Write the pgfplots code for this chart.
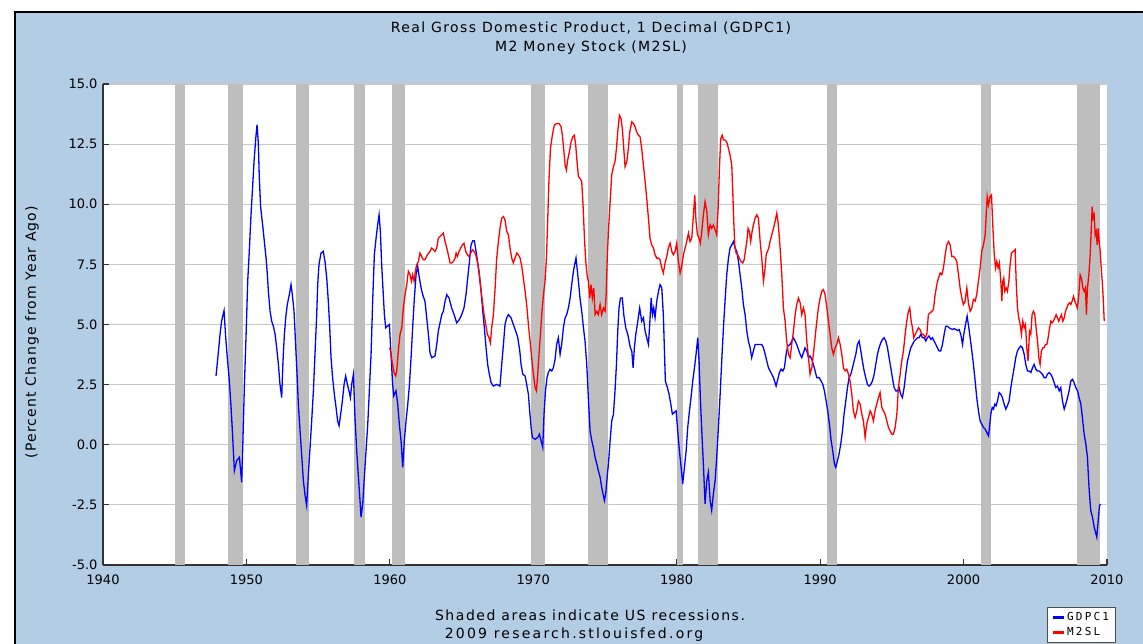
\documentclass[border=0pt]{standalone}
\usepackage{pgfplots}
\pgfplotsset{compat=1.18}
\usepackage{fontspec}
\setmainfont{DejaVu Sans}
\newfontfamily\legfont[LetterSpace=20]{DejaVu Sans Mono}
\newfontfamily\titlefont[LetterSpace=10]{DejaVu Sans}
\newfontfamily\ylabfont[LetterSpace=8]{DejaVu Sans}
\newfontfamily\shadefont[LetterSpace=11]{DejaVu Sans}
\newfontfamily\credfont[LetterSpace=16]{DejaVu Sans}
\definecolor{bgblue}{RGB}{179,205,229}
\definecolor{recgray}{RGB}{190,190,190}
\definecolor{gridgray}{RGB}{200,200,200}
\begin{document}
\begin{tikzpicture}
\fill[white] (0pt,0pt) rectangle (1143pt,643pt);
\fill[bgblue] (15pt,-5pt) rectangle (1150pt,631pt);
\draw[black, line width=1.6pt] (15pt,-5pt) -- (15pt,631pt) -- (1150pt,631pt);
\node[font=\titlefont\fontsize{14}{19}\selectfont, align=center] at (591pt,604.5pt) {Real Gross Domestic Product, 1 Decimal (GDPC1)\\M2 Money Stock (M2SL)};
\node[font=\ylabfont\fontsize{14}{16}\selectfont, rotate=90] at (32pt,311pt) {(Percent Change from Year Ago)};
\node[font=\shadefont\fontsize{14}{16}\selectfont] at (590pt,28pt) {Shaded areas indicate US recessions.};
\node[font=\credfont\fontsize{14}{16}\selectfont] at (574pt,8pt) {2009 research.stlouisfed.org};
\begin{axis}[
 at={(103pt,78pt)}, anchor=south west, scale only axis, width=1004pt, height=481pt,
 xmin=1940, xmax=2010, ymin=-5, ymax=15,
 xtick={1940,1950,...,2010}, ytick={-5,-2.5,...,15},
 axis lines*=left, axis line style={-, draw=black!80, line width=1.2pt},
 tick align=inside, major tick length=6pt, tick style={black!80, line width=1.2pt},
 ymajorgrids, grid style={draw=gridgray, line width=1.2pt},
 axis background/.style={fill=white},
 /pgf/number format/assume math mode=true,
 xticklabel style={/pgf/number format/1000 sep={}, yshift=-6pt},
 yticklabel style={/pgf/number format/fixed, /pgf/number format/fixed zerofill, /pgf/number format/precision=1, xshift=-2pt},
 ticklabel style={font=\fontsize{13}{15}\selectfont},
 legend style={at={(0.940,-0.088)}, anchor=north west, draw=black!70, line width=0.8pt, fill=white, font=\legfont\fontsize{11}{13}\selectfont, row sep=1pt, inner xsep=4pt, inner ysep=3pt},
 legend cell align=left,
 legend image code/.code={\draw[#1, line width=3pt] (0pt,0pt) -- (11pt,0pt);},
]
\addplot[fill=recgray, draw=none, forget plot] coordinates {(1945.02,-5)(1945.02,15)(1945.72,15)(1945.72,-5)} -- cycle;
\addplot[fill=recgray, draw=none, forget plot] coordinates {(1948.73,-5)(1948.73,15)(1949.74,15)(1949.74,-5)} -- cycle;
\addplot[fill=recgray, draw=none, forget plot] coordinates {(1953.46,-5)(1953.46,15)(1954.37,15)(1954.37,-5)} -- cycle;
\addplot[fill=recgray, draw=none, forget plot] coordinates {(1957.53,-5)(1957.53,15)(1958.25,15)(1958.25,-5)} -- cycle;
\addplot[fill=recgray, draw=none, forget plot] coordinates {(1960.15,-5)(1960.15,15)(1961.06,15)(1961.06,-5)} -- cycle;
\addplot[fill=recgray, draw=none, forget plot] coordinates {(1969.85,-5)(1969.85,15)(1970.82,15)(1970.82,-5)} -- cycle;
\addplot[fill=recgray, draw=none, forget plot] coordinates {(1973.8,-5)(1973.8,15)(1975.2,15)(1975.2,-5)} -- cycle;
\addplot[fill=recgray, draw=none, forget plot] coordinates {(1980.0,-5)(1980.0,15)(1980.47,15)(1980.47,-5)} -- cycle;
\addplot[fill=recgray, draw=none, forget plot] coordinates {(1981.47,-5)(1981.47,15)(1982.89,15)(1982.89,-5)} -- cycle;
\addplot[fill=recgray, draw=none, forget plot] coordinates {(1990.47,-5)(1990.47,15)(1991.19,15)(1991.19,-5)} -- cycle;
\addplot[fill=recgray, draw=none, forget plot] coordinates {(2001.2,-5)(2001.2,15)(2001.9,15)(2001.9,-5)} -- cycle;
\addplot[fill=recgray, draw=none, forget plot] coordinates {(2007.94,-5)(2007.94,15)(2009.53,15)(2009.53,-5)} -- cycle;
\addplot[blue, line width=1.3pt] coordinates {
(1947.88,2.86)(1948.04,3.83)(1948.16,4.59)(1948.27,5.14)(1948.44,5.58)(1948.55,4.5)(1948.67,3.6)(1948.81,2.65)(1948.93,1.55)(1949.02,0.58)(1949.16,-1.08)(1949.32,-0.66)(1949.51,-0.52)(1949.67,-1.56)(1949.74,-0.18)(1949.86,2.51)(1949.97,4.45)(1950.09,6.8)(1950.2,8.04)(1950.32,9.56)(1950.44,10.8)(1950.53,11.77)(1950.65,12.73)(1950.74,13.31)(1950.83,12.53)(1950.9,11.08)(1950.99,9.9)(1951.13,9.14)(1951.25,8.45)(1951.37,7.76)(1951.46,7.07)(1951.53,6.38)(1951.65,5.55)(1951.76,5.14)(1951.88,4.93)(1952.0,4.59)(1952.11,4.03)(1952.23,3.34)(1952.34,2.51)(1952.46,1.96)(1952.55,3.48)(1952.64,4.52)(1952.74,5.28)(1952.85,5.83)(1952.99,6.24)(1953.11,6.66)(1953.2,6.24)(1953.32,5.55)(1953.43,4.17)(1953.53,2.93)(1953.62,1.69)(1953.74,0.58)(1953.85,-0.39)(1953.97,-1.49)(1954.09,-2.11)(1954.2,-2.53)(1954.32,-1.22)(1954.43,-0.18)(1954.55,0.99)(1954.67,2.24)(1954.78,3.76)(1954.9,5.41)(1954.97,6.66)(1955.06,7.49)(1955.2,7.97)(1955.36,8.04)(1955.48,7.62)(1955.6,6.93)(1955.71,5.97)(1955.81,4.86)(1955.9,3.62)(1956.01,2.79)(1956.13,2.1)(1956.25,1.55)(1956.36,0.99)(1956.46,0.79)(1956.57,1.27)(1956.69,1.82)(1956.81,2.51)(1956.92,2.86)(1957.04,2.51)(1957.15,2.24)(1957.25,1.96)(1957.34,2.51)(1957.46,2.93)
(1957.57,1.13)(1957.69,-0.25)(1957.81,-1.35)(1957.92,-2.32)(1957.99,-3.01)(1958.11,-2.46)(1958.22,-1.35)(1958.34,-0.25)(1958.46,0.86)(1958.57,2.24)(1958.69,3.76)(1958.81,6.1)(1958.92,7.9)(1959.04,8.59)(1959.15,9.14)(1959.25,9.56)(1959.34,8.87)(1959.43,7.49)(1959.53,6.38)(1959.62,5.41)(1959.71,4.86)(1959.83,4.93)(1959.97,5.0)(1960.08,3.76)(1960.18,2.65)(1960.27,2.03)(1960.43,2.24)(1960.55,1.69)(1960.66,0.86)(1960.78,0.17)(1960.9,-0.94)(1961.01,0.17)(1961.13,0.99)(1961.25,1.69)(1961.36,2.44)(1961.48,3.62)(1961.59,4.86)(1961.71,6.1)(1961.83,7.07)(1961.94,7.42)(1962.06,6.93)(1962.18,6.52)(1962.29,6.24)(1962.45,5.97)(1962.57,5.28)(1962.69,4.59)(1962.8,3.83)(1962.92,3.62)(1963.15,3.69)(1963.27,4.17)(1963.38,4.72)(1963.5,5.07)(1963.62,5.41)(1963.73,5.55)(1963.85,5.97)(1963.97,6.24)(1964.13,6.1)(1964.31,5.69)(1964.48,5.41)(1964.66,5.07)(1964.85,5.21)(1965.01,5.41)(1965.17,5.69)(1965.31,6.24)(1965.43,6.93)(1965.55,7.62)(1965.66,8.31)(1965.78,8.48)(1965.89,8.48)(1966.01,8.04)(1966.13,7.56)(1966.24,7.07)(1966.36,6.38)(1966.48,5.55)(1966.59,4.86)(1966.71,4.03)(1966.82,3.34)(1966.94,2.93)(1967.06,2.58)(1967.22,2.44)(1967.45,2.51)(1967.68,2.44)(1967.8,3.34)(1967.92,4.17)(1968.03,5.0)(1968.15,5.28)
(1968.27,5.41)(1968.45,5.28)(1968.61,5.0)(1968.78,4.72)(1968.92,4.45)(1969.06,3.9)(1969.15,3.34)(1969.27,2.93)(1969.43,2.86)(1969.54,2.51)(1969.66,2.1)(1969.75,1.41)(1969.85,0.72)(1969.94,0.3)(1970.13,0.23)(1970.31,0.3)(1970.43,0.44)(1970.54,0.17)(1970.66,-0.11)(1970.75,1.27)(1970.85,2.24)(1970.96,2.79)(1971.05,3.0)(1971.17,3.14)(1971.29,3.07)(1971.4,3.2)(1971.52,3.55)(1971.63,4.17)(1971.75,4.45)(1971.87,3.76)(1971.98,4.17)(1972.1,4.86)(1972.22,5.28)(1972.33,5.41)(1972.45,5.69)(1972.57,6.1)(1972.68,6.66)(1972.8,7.21)(1972.91,7.56)(1972.98,7.76)(1973.08,7.21)(1973.17,6.66)(1973.26,6.1)(1973.38,5.55)(1973.5,4.86)(1973.61,4.31)(1973.73,3.34)(1973.84,1.96)(1973.96,0.58)(1974.08,0.17)(1974.19,-0.11)(1974.31,-0.52)(1974.43,-0.8)(1974.54,-1.08)(1974.66,-1.35)(1974.77,-1.77)(1974.89,-2.11)(1974.96,-2.32)(1975.05,-2.04)(1975.15,-1.35)(1975.24,-0.8)(1975.36,0.17)(1975.47,0.99)(1975.59,1.27)(1975.7,2.24)(1975.8,3.34)(1975.89,4.72)(1975.98,5.69)(1976.08,6.1)(1976.21,6.1)(1976.31,5.41)(1976.45,4.86)(1976.59,4.59)(1976.68,4.31)(1976.77,4.03)(1976.87,3.9)(1976.96,3.2)(1977.05,4.03)(1977.15,4.59)(1977.29,5.14)(1977.42,5.69)(1977.56,5.14)(1977.68,5.28)(1977.8,4.72)(1977.91,4.45)(1978.03,4.17)(1978.12,5.0)(1978.22,6.1)(1978.31,5.41)(1978.4,5.69)(1978.49,5.28)(1978.61,5.97)(1978.73,6.38)
(1978.84,6.66)(1978.96,6.52)(1979.07,5.41)(1979.14,4.03)(1979.21,2.65)(1979.35,2.38)(1979.47,2.1)(1979.59,1.69)(1979.7,1.27)(1979.82,1.34)(1979.96,1.41)(1980.07,0.58)(1980.19,-0.25)(1980.31,-0.94)(1980.42,-1.63)(1980.54,-0.94)(1980.66,-0.25)(1980.77,0.72)(1980.89,1.41)(1981.0,1.96)(1981.12,2.65)(1981.24,3.2)(1981.35,3.76)(1981.47,4.45)(1981.56,3.48)(1981.65,1.96)(1981.75,0.58)(1981.86,-0.8)(1981.98,-2.46)(1982.1,-1.49)(1982.21,-1.15)(1982.33,-2.32)(1982.44,-2.73)(1982.56,-2.04)(1982.68,-1.49)(1982.79,-0.52)(1982.91,0.72)(1983.03,2.1)(1983.14,3.48)(1983.26,4.86)(1983.37,5.97)(1983.49,7.07)(1983.61,7.76)(1983.72,8.18)(1983.84,8.31)(1983.96,8.45)(1984.07,8.18)(1984.19,8.04)(1984.31,7.62)(1984.42,7.07)(1984.54,6.52)(1984.65,5.83)(1984.77,5.41)(1984.89,4.72)(1985.0,4.31)(1985.12,4.03)(1985.23,3.62)(1985.35,3.9)(1985.47,4.17)(1985.63,4.17)(1985.82,4.17)(1985.93,4.17)(1986.05,4.03)(1986.17,3.76)(1986.28,3.48)(1986.4,3.2)(1986.51,3.07)(1986.63,2.93)(1986.75,2.79)(1986.86,2.58)(1986.93,2.44)(1987.05,2.72)(1987.16,3.0)(1987.28,3.14)(1987.4,3.07)(1987.51,3.2)(1987.63,3.76)(1987.74,4.1)(1987.91,4.17)(1988.02,4.31)(1988.14,4.45)(1988.26,4.31)(1988.37,4.17)(1988.49,3.96)(1988.61,3.76)(1988.72,3.62)(1988.84,3.83)(1988.95,4.03)(1989.07,3.9)(1989.19,3.62)(1989.3,3.69)(1989.42,3.55)(1989.53,3.34)
(1989.65,3.07)(1989.77,2.79)(1989.93,2.79)(1990.07,2.65)(1990.19,2.51)(1990.3,2.24)(1990.42,1.82)(1990.53,1.41)(1990.65,0.86)(1990.77,0.17)(1990.88,-0.25)(1991.0,-0.8)(1991.09,-0.94)(1991.21,-0.66)(1991.32,-0.39)(1991.44,0.03)(1991.56,0.58)(1991.67,1.27)(1991.79,1.82)(1991.91,2.38)(1992.02,2.79)(1992.14,2.93)(1992.26,3.2)(1992.37,3.48)(1992.49,3.76)(1992.6,4.17)(1992.72,4.31)(1992.84,3.9)(1992.95,3.48)(1993.07,3.07)(1993.18,2.79)(1993.3,2.51)(1993.42,2.44)(1993.53,2.51)(1993.65,2.65)(1993.77,2.93)(1993.88,3.34)(1994.0,3.76)(1994.11,4.03)(1994.23,4.24)(1994.35,4.38)(1994.46,4.45)(1994.58,4.31)(1994.7,4.03)(1994.81,3.62)(1994.93,3.2)(1995.04,2.79)(1995.16,2.38)(1995.28,2.24)(1995.39,2.24)(1995.51,2.38)(1995.62,2.1)(1995.74,1.96)(1995.86,2.38)(1995.97,2.93)(1996.09,3.48)(1996.21,3.76)(1996.32,4.03)(1996.44,4.17)(1996.56,4.31)(1996.67,4.38)(1996.79,4.45)(1996.9,4.45)(1997.02,4.59)(1997.14,4.45)(1997.25,4.45)(1997.37,4.31)(1997.48,4.45)(1997.6,4.52)(1997.72,4.38)(1997.83,4.45)(1997.95,4.31)(1998.07,4.17)(1998.18,4.03)(1998.3,3.9)(1998.41,3.9)(1998.53,4.17)(1998.65,4.59)(1998.76,4.93)(1998.88,4.93)(1999.0,4.86)(1999.11,4.83)(1999.23,4.79)(1999.35,4.83)(1999.46,4.79)(1999.58,4.75)(1999.69,4.79)(1999.81,4.59)(1999.93,4.17)(2000.02,4.59)(2000.14,5.0)(2000.25,5.35)(2000.37,4.86)
(2000.46,4.45)(2000.58,3.9)(2000.69,3.34)(2000.81,2.65)(2000.92,1.96)(2001.04,1.41)(2001.16,0.99)(2001.27,0.86)(2001.39,0.72)(2001.51,0.65)(2001.62,0.51)(2001.74,0.37)(2001.81,0.72)(2001.9,1.27)(2002.0,1.55)(2002.09,1.48)(2002.18,1.69)(2002.27,1.62)(2002.37,1.82)(2002.48,2.17)(2002.6,2.1)(2002.71,1.96)(2002.83,1.69)(2002.95,1.48)(2003.06,1.62)(2003.18,1.82)(2003.3,2.38)(2003.41,2.79)(2003.53,3.2)(2003.64,3.62)(2003.76,3.9)(2003.88,4.03)(2003.99,4.1)(2004.11,4.03)(2004.23,3.76)(2004.34,3.34)(2004.46,3.07)(2004.57,3.07)(2004.69,3.0)(2004.81,3.2)(2004.92,3.34)(2005.04,3.14)(2005.16,3.07)(2005.27,3.07)(2005.39,3.0)(2005.5,2.93)(2005.62,2.79)(2005.74,2.79)(2005.85,2.93)(2005.97,3.0)(2006.09,2.93)(2006.2,2.79)(2006.32,2.58)(2006.43,2.38)(2006.55,2.44)(2006.67,2.24)(2006.78,2.38)(2006.9,1.82)(2007.02,1.48)(2007.13,1.69)(2007.25,1.96)(2007.36,2.24)(2007.48,2.65)(2007.6,2.72)(2007.71,2.58)(2007.83,2.38)(2007.95,2.24)(2008.06,1.96)(2008.18,1.69)(2008.29,1.13)(2008.41,0.44)(2008.53,0.03)(2008.64,-0.52)(2008.71,-1.35)(2008.78,-2.04)(2008.87,-2.73)(2008.99,-3.01)(2009.11,-3.43)(2009.2,-3.63)(2009.29,-3.84)(2009.39,-3.15)(2009.48,-2.53)(2009.55,-2.46)
};
\addlegendentry{GDPC1}
\addplot[red, line width=1.3pt] coordinates {
(1959.97,4.03)(1960.06,3.9)(1960.15,3.48)(1960.29,3.0)(1960.41,2.86)(1960.48,3.07)(1960.59,3.9)(1960.71,4.59)(1960.83,4.86)(1960.94,5.69)(1961.06,6.24)(1961.18,6.66)(1961.29,7.21)(1961.41,7.07)(1961.5,6.8)(1961.59,7.07)(1961.69,6.8)(1961.78,7.21)(1961.87,7.49)(1961.99,7.62)(1962.1,7.97)(1962.22,7.83)(1962.34,7.69)(1962.45,7.69)(1962.62,7.9)(1962.8,8.04)(1962.92,8.18)(1963.04,8.11)(1963.15,8.04)(1963.27,8.18)(1963.38,8.59)(1963.5,8.66)(1963.62,8.73)(1963.73,8.8)(1963.85,8.45)(1963.97,8.18)(1964.08,7.9)(1964.2,7.56)(1964.31,7.56)(1964.43,7.62)(1964.55,7.76)(1964.62,7.97)(1964.71,7.83)(1964.83,8.04)(1964.94,8.18)(1965.06,8.31)(1965.17,8.38)(1965.29,8.04)(1965.41,7.9)(1965.52,7.83)(1965.64,7.97)(1965.76,8.11)(1965.87,8.04)(1965.99,7.9)(1966.1,7.62)(1966.22,7.21)(1966.34,6.52)(1966.45,5.97)(1966.57,5.41)(1966.69,5.0)(1966.8,4.59)(1966.92,4.45)(1967.01,4.24)(1967.1,4.86)(1967.22,5.41)(1967.34,6.52)(1967.45,7.76)(1967.57,8.45)(1967.68,9.0)(1967.8,9.42)(1967.92,9.49)
(1968.03,9.35)(1968.15,8.87)(1968.27,8.73)(1968.38,8.18)(1968.5,7.76)(1968.61,7.56)(1968.73,7.76)(1968.85,7.97)(1968.96,7.9)(1969.08,7.76)(1969.2,7.42)(1969.31,6.93)(1969.43,6.38)(1969.54,5.83)(1969.66,5.0)(1969.78,4.31)(1969.89,3.62)(1970.01,2.93)(1970.13,2.38)(1970.22,2.24)(1970.31,2.93)(1970.4,3.76)(1970.5,4.59)(1970.59,5.41)(1970.71,6.24)(1970.82,6.8)(1970.92,7.76)(1971.01,9.42)(1971.1,11.08)(1971.2,12.32)(1971.33,12.87)(1971.47,13.29)(1971.64,13.36)(1971.8,13.36)(1971.94,13.22)(1972.03,12.87)(1972.12,12.32)(1972.22,11.63)(1972.31,11.42)(1972.4,11.84)(1972.52,12.18)(1972.64,12.6)(1972.75,12.8)(1972.87,12.87)(1972.96,12.46)(1973.05,11.77)(1973.15,11.15)(1973.26,11.08)(1973.38,10.94)(1973.47,9.97)(1973.57,8.59)(1973.66,7.62)(1973.75,7.07)(1973.84,6.8)(1973.94,6.1)(1974.03,6.66)(1974.12,6.1)(1974.22,6.52)(1974.31,5.41)(1974.43,5.55)(1974.54,5.41)(1974.66,5.83)(1974.77,5.41)(1974.89,5.69)(1975.01,5.55)(1975.08,6.24)(1975.15,7.62)(1975.24,8.87)(1975.36,10.11)(1975.47,11.22)(1975.59,11.56)(1975.7,11.77)(1975.8,12.32)(1975.89,13.01)(1976.01,13.7)(1976.12,13.56)(1976.21,13.15)(1976.31,12.32)(1976.4,11.56)(1976.52,11.77)(1976.63,12.32)(1976.73,13.01)(1976.87,13.43)(1976.98,13.36)(1977.1,13.22)(1977.21,13.01)(1977.33,12.87)(1977.45,12.8)(1977.56,12.32)(1977.68,11.63)(1977.8,10.94)(1977.91,10.25)(1978.03,9.42)(1978.14,8.59)(1978.26,8.31)(1978.38,8.18)(1978.49,7.9)(1978.61,7.76)(1978.73,7.76)
(1978.84,7.69)(1978.96,7.35)(1979.07,7.14)(1979.19,7.56)(1979.31,7.83)(1979.42,8.18)(1979.54,8.38)(1979.66,8.04)(1979.77,7.9)(1979.89,8.04)(1980.0,8.38)(1980.12,7.62)(1980.24,7.14)(1980.35,7.42)(1980.47,7.9)(1980.59,8.18)(1980.7,8.45)(1980.82,8.8)(1980.93,8.45)(1981.05,8.59)(1981.17,9.56)(1981.26,10.39)(1981.35,9.28)(1981.45,8.73)(1981.56,8.59)(1981.65,8.38)(1981.75,8.87)(1981.86,9.56)(1981.98,10.11)(1982.1,9.7)(1982.21,8.73)(1982.33,9.14)(1982.44,9.0)(1982.56,9.14)(1982.68,8.94)(1982.79,8.73)(1982.89,9.83)(1982.98,11.49)(1983.07,12.73)(1983.17,12.87)(1983.26,12.67)(1983.37,12.67)(1983.49,12.6)(1983.61,12.32)(1983.72,12.04)(1983.84,11.63)(1983.91,10.53)(1983.98,9.28)(1984.05,8.31)(1984.14,7.97)(1984.26,7.9)(1984.37,7.76)(1984.49,7.62)(1984.61,7.56)(1984.7,7.69)(1984.79,8.04)(1984.89,8.45)(1984.98,9.0)(1985.07,8.87)(1985.16,8.45)(1985.26,8.87)(1985.35,9.14)(1985.47,9.42)(1985.58,9.56)(1985.7,9.42)(1985.82,8.45)(1985.93,7.76)(1986.05,6.8)(1986.14,7.21)(1986.24,7.9)(1986.33,8.04)(1986.42,8.18)(1986.51,8.45)(1986.63,8.73)(1986.75,9.0)(1986.86,9.28)(1986.98,9.63)(1987.09,9.14)(1987.21,8.18)(1987.33,7.07)(1987.44,5.69)(1987.56,5.14)(1987.67,4.31)(1987.79,3.76)(1987.91,3.62)(1988.02,4.17)(1988.14,4.72)(1988.26,5.41)(1988.37,5.83)(1988.49,6.1)(1988.61,5.9)(1988.72,5.41)(1988.84,5.69)(1988.95,5.41)(1989.07,4.31)(1989.19,3.62)(1989.3,2.93)(1989.42,3.2)(1989.53,3.76)
(1989.65,4.45)(1989.77,5.14)(1989.88,5.69)(1990.0,6.1)(1990.12,6.38)(1990.23,6.45)(1990.35,6.24)(1990.47,5.69)(1990.58,5.14)(1990.7,4.59)(1990.81,4.03)(1990.93,3.76)(1991.05,4.03)(1991.16,4.17)(1991.28,4.45)(1991.4,4.17)(1991.51,3.76)(1991.63,3.2)(1991.74,3.07)(1991.86,3.14)(1991.98,2.93)(1992.09,2.65)(1992.21,2.1)(1992.32,1.41)(1992.44,1.13)(1992.56,1.41)(1992.67,1.82)(1992.79,1.69)(1992.91,1.27)(1993.02,0.99)(1993.14,0.3)(1993.25,0.86)(1993.37,1.13)(1993.49,1.41)(1993.6,1.27)(1993.72,0.99)(1993.83,1.41)(1993.95,1.69)(1994.07,1.96)(1994.18,2.17)(1994.3,1.55)(1994.42,1.41)(1994.53,1.27)(1994.65,0.99)(1994.77,0.72)(1994.88,0.58)(1995.0,0.44)(1995.11,0.44)(1995.23,0.72)(1995.35,1.27)(1995.46,2.38)(1995.58,2.93)(1995.69,3.48)(1995.81,3.9)(1995.93,4.59)(1996.04,5.14)(1996.16,5.55)(1996.25,5.69)(1996.35,5.14)(1996.44,4.86)(1996.53,4.45)(1996.63,4.59)(1996.74,4.72)(1996.86,4.86)(1996.97,4.79)(1997.09,4.59)(1997.21,4.59)(1997.32,4.45)(1997.44,4.59)(1997.55,5.41)(1997.67,5.48)(1997.79,5.55)(1997.9,5.62)(1998.02,6.24)(1998.14,6.66)(1998.25,6.93)(1998.37,7.14)(1998.49,7.07)(1998.6,7.35)(1998.72,7.9)(1998.83,8.31)(1998.95,8.45)(1999.07,8.31)(1999.18,7.83)(1999.3,7.83)(1999.41,7.76)(1999.53,7.62)(1999.65,7.07)(1999.76,6.52)(1999.88,6.1)(1999.99,5.83)(2000.11,5.97)(2000.23,6.52)(2000.34,5.9)
(2000.46,5.55)(2000.58,5.69)(2000.69,6.04)(2000.81,5.97)(2000.92,6.24)(2001.04,6.8)(2001.16,7.35)(2001.27,8.04)(2001.39,8.31)(2001.51,8.73)(2001.58,9.56)(2001.65,10.32)(2001.74,9.97)(2001.85,10.32)(2001.95,10.39)(2002.04,9.14)(2002.13,8.04)(2002.23,7.35)(2002.32,7.62)(2002.41,7.35)(2002.5,7.56)(2002.6,6.8)(2002.67,5.97)(2002.74,6.8)(2002.81,6.93)(2002.88,6.38)(2002.97,6.52)(2003.06,6.38)(2003.16,6.8)(2003.25,7.49)(2003.34,7.97)(2003.48,8.04)(2003.6,8.11)(2003.67,6.8)(2003.76,5.69)(2003.85,5.28)(2003.95,5.0)(2004.04,4.59)(2004.13,5.14)(2004.23,4.86)(2004.32,5.0)(2004.41,4.03)(2004.5,3.48)(2004.6,4.72)(2004.69,4.59)(2004.78,5.41)(2004.88,5.55)(2004.97,5.41)(2005.06,4.86)(2005.16,4.31)(2005.25,3.62)(2005.34,3.34)(2005.43,3.9)(2005.53,4.03)(2005.62,4.03)(2005.71,4.17)(2005.81,4.17)(2005.9,4.45)(2006.0,4.86)(2006.09,5.14)(2006.18,5.07)(2006.27,5.14)(2006.37,5.28)(2006.46,5.41)(2006.55,5.28)(2006.64,5.14)(2006.74,5.28)(2006.83,5.41)(2006.92,5.14)(2007.02,5.28)(2007.11,5.55)(2007.2,5.69)(2007.29,5.83)(2007.39,5.9)(2007.48,5.83)(2007.57,5.97)(2007.67,6.17)(2007.76,5.97)(2007.85,5.83)(2007.94,5.69)(2008.04,6.24)(2008.13,7.07)(2008.22,6.93)(2008.32,6.52)(2008.41,6.38)(2008.5,6.52)(2008.57,5.41)(2008.64,6.52)(2008.74,7.07)(2008.83,7.9)(2008.9,8.87)(2008.97,9.9)(2009.04,9.42)(2009.11,9.56)(2009.18,8.73)(2009.25,8.87)(2009.32,8.31)(2009.39,9.0)(2009.46,8.45)(2009.53,8.04)(2009.6,7.35)(2009.67,6.8)(2009.74,6.1)(2009.81,5.14)
};
\addlegendentry{M2SL}
\end{axis}
\pgfresetboundingbox
\path[use as bounding box] (0pt,0pt) rectangle (1143pt,643pt);
\end{tikzpicture}
\end{document}
